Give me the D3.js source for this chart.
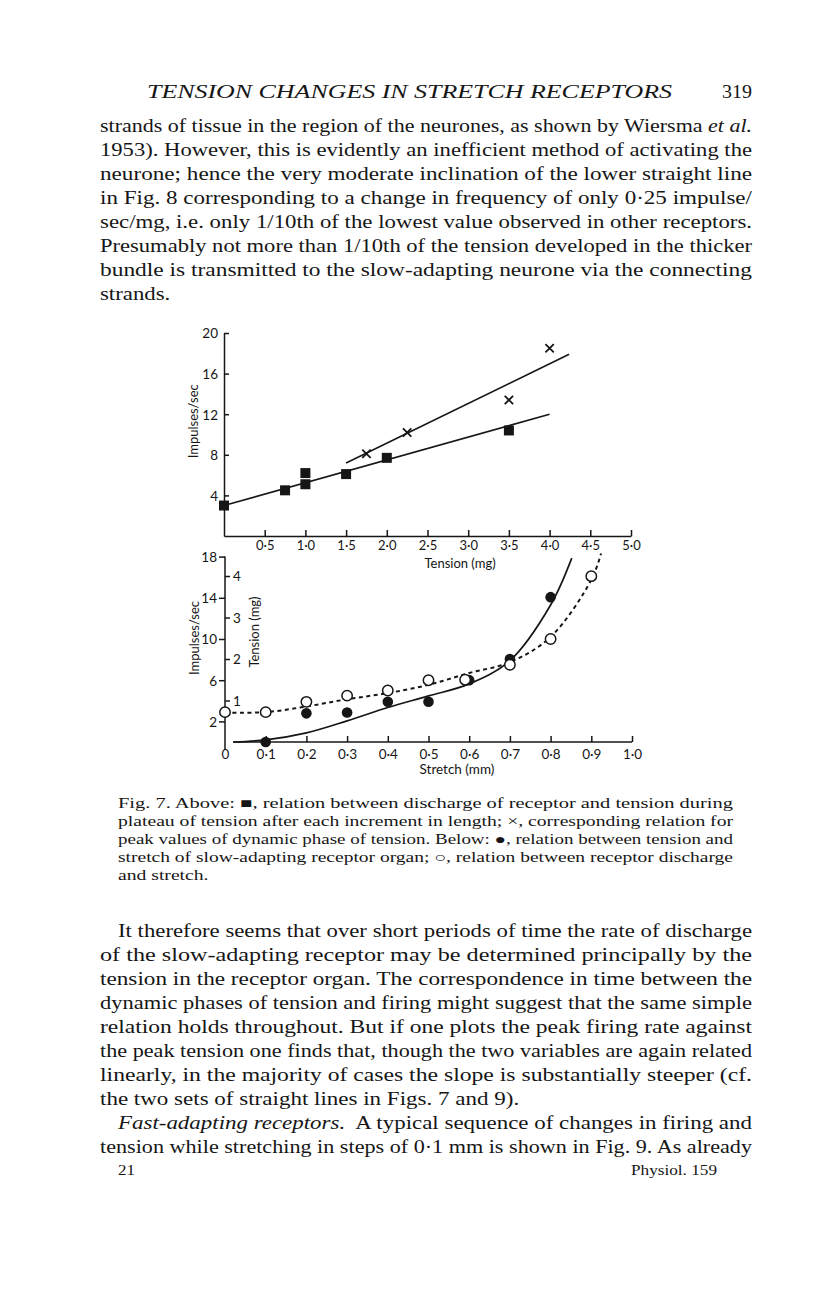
<!DOCTYPE html>
<html>
<head>
<meta charset="utf-8">
<script src="https://cdn.jsdelivr.net/npm/d3@7/dist/d3.min.js"></script>
<style>
  html, body { margin: 0; padding: 0; background: #fff; }
  svg { display: block; }
</style>
</head>
<body>
<script>
// ---------------- DATA ----------------
// Upper panel: discharge vs tension
const squareTension = [0, 0.75, 1.0, 1.0, 1.5, 2.0, 3.5];
const squareRate    = [3.0, 4.5, 5.1, 6.2, 6.1, 7.7, 10.4];
const crossTension  = [1.75, 2.25, 3.5, 4.0];
const crossRate     = [8.1, 10.2, 13.4, 18.5];
const plateauLineT  = [0, 4.0];
const plateauLineR  = [3.0, 12.0];
const peakLineT     = [1.5, 4.24];
const peakLineR     = [7.2, 17.9];
const upperXTicks   = [0.5, 1.0, 1.5, 2.0, 2.5, 3.0, 3.5, 4.0, 4.5, 5.0];
const upperYTicks   = [4, 8, 12, 16, 20];

// Lower panel: tension & discharge vs stretch
const filledStretch = [0.1, 0.2, 0.3, 0.4, 0.5, 0.6, 0.7, 0.8];
const filledTension = [0.0, 0.69, 0.71, 0.97, 0.97, 1.49, 2.0, 3.49];
const openStretch   = [0, 0.1, 0.2, 0.3, 0.4, 0.5, 0.59, 0.7, 0.8, 0.9];
const openRate      = [2.9, 2.9, 3.9, 4.5, 5.0, 6.0, 6.05, 7.5, 10.0, 16.1];
const tensionCurveS = [0.02, 0.1, 0.2, 0.3, 0.4, 0.5, 0.6, 0.7, 0.8, 0.852];
const tensionCurveT = [0.0, 0.05, 0.22, 0.51, 0.83, 1.11, 1.40, 1.96, 3.30, 4.43];
const rateCurveS    = [0, 0.1, 0.2, 0.3, 0.4, 0.5, 0.6, 0.7, 0.8, 0.9, 0.924];
const rateCurveR    = [2.85, 2.9, 3.45, 4.15, 4.75, 5.55, 6.7, 7.75, 10.2, 15.75, 18.3];
const lowerXTicks   = [0, 0.1, 0.2, 0.3, 0.4, 0.5, 0.6, 0.7, 0.8, 0.9, 1.0];
const lowerRateTicks = [2, 6, 10, 14, 18];
const lowerTensionTicks = [1, 2, 3, 4];

// ---------------- TEXT ----------------
const headerText = "TENSION CHANGES IN STRETCH RECEPTORS";
const pageNumber = "319";
const topPara = [
  [["strands of tissue in the region of the neurones, as shown by Wiersma ", 0], ["et al.", 1]],
  [["1953). However, this is evidently an inefficient method of activating the", 0]],
  [["neurone; hence the very moderate inclination of the lower straight line", 0]],
  [["in Fig. 8 corresponding to a change in frequency of only 0·25 impulse/", 0]],
  [["sec/mg, i.e. only 1/10th of the lowest value observed in other receptors.", 0]],
  [["Presumably not more than 1/10th of the tension developed in the thicker", 0]],
  [["bundle is transmitted to the slow-adapting neurone via the connecting", 0]],
  [["strands.", 0]]
];
const captionLines = [
  "Fig. 7. Above: \u25A0, relation between discharge of receptor and tension during",
  "plateau of tension after each increment in length; \u00D7, corresponding relation for",
  "peak values of dynamic phase of tension. Below: \u25CF, relation between tension and",
  "stretch of slow-adapting receptor organ; \u25CB, relation between receptor discharge",
  "and stretch."
];
const bottomPara = [
  [["It therefore seems that over short periods of time the rate of discharge", 0]],
  [["of the slow-adapting receptor may be determined principally by the", 0]],
  [["tension in the receptor organ. The correspondence in time between the", 0]],
  [["dynamic phases of tension and firing might suggest that the same simple", 0]],
  [["relation holds throughout. But if one plots the peak firing rate against", 0]],
  [["the peak tension one finds that, though the two variables are again related", 0]],
  [["linearly, in the majority of cases the slope is substantially steeper (cf.", 0]],
  [["the two sets of straight lines in Figs. 7 and 9).", 0]],
  [["Fast-adapting receptors.", 1], ["  A typical sequence of changes in firing and", 0]],
  [["tension while stretching in steps of 0·1 mm is shown in Fig. 9. As already", 0]]
];

// ---------------- DRAW ----------------
const W = 816, H = 1296;
const svg = d3.select("body").append("svg").attr("width", W).attr("height", H);
svg.append("rect").attr("width", W).attr("height", H).attr("fill", "#fff");

const INK = "#161616";
const serif = "'Liberation Serif', 'Times New Roman', serif";
const sans = "Lato, 'Liberation Sans', sans-serif";

function textLine(g, segs, x, y, size, opts = {}) {
  const t = g.append("text").attr("x", x).attr("y", y)
    .attr("font-family", serif).attr("font-size", size).attr("fill", INK)
    .attr("xml:space", "preserve");
  if (opts.italicAll) t.attr("font-style", "italic");
  segs.forEach(([s, it]) => {
    const ts = t.append("tspan").text(s);
    if (it) ts.attr("font-style", "italic");
  });
  return t;
}

// Lay out a block of lines; justified lines get exact width, ragged lines get the
// block's mean horizontal stretch so that glyph widths stay consistent.
function block(g, lines, size, y0, step, xFor, rightX, raggedIdx) {
  const nodes = lines.map((segs, i) => textLine(g, segs, xFor(i), y0 + i * step, size));
  const ratios = [];
  nodes.forEach((t, i) => {
    if (!raggedIdx.includes(i)) {
      const nat = t.node().getComputedTextLength();
      const w = rightX - xFor(i);
      ratios.push(w / nat);
      t.attr("textLength", w).attr("lengthAdjust", "spacingAndGlyphs");
    }
  });
  const mean = d3.mean(ratios);
  nodes.forEach((t, i) => {
    if (raggedIdx.includes(i)) {
      const nat = t.node().getComputedTextLength();
      t.attr("textLength", nat * mean).attr("lengthAdjust", "spacingAndGlyphs");
    }
  });
}

const textG = svg.append("g");
// header
textLine(textG, [[headerText, 0]], 147, 98, 18, { italicAll: true })
  .attr("textLength", 525).attr("lengthAdjust", "spacingAndGlyphs");
textLine(textG, [[pageNumber, 0]], 722, 98, 18)
  .attr("textLength", 30).attr("lengthAdjust", "spacingAndGlyphs");

block(textG, topPara, 19, 132, 24, () => 100, 752, [7]);
block(textG, captionLines.map(s => [[s, 0]]), 14, 808, 18, () => 118, 733, [4]);
block(textG, bottomPara, 19, 937, 24, i => (i === 0 || i === 8) ? 118 : 100, 752, [7]);

// footer
textLine(textG, [["21", 0]], 118, 1175, 15).attr("textLength", 17).attr("lengthAdjust", "spacingAndGlyphs");
textLine(textG, [["Physiol. 159", 0]], 631, 1175, 15).attr("textLength", 86).attr("lengthAdjust", "spacingAndGlyphs");

const fmt = d => d === 0 ? "0" : d.toFixed(1).replace(".", "\u00B7");

// ---------- Upper panel ----------
const ux = d3.scaleLinear().domain([0, 5]).range([224, 631]);
const uy = d3.scaleLinear().domain([0, 20]).range([536, 333]);
const up = svg.append("g");

const uxAxis = up.append("g").attr("transform", `translate(0,${uy(0)})`)
  .call(d3.axisBottom(ux).tickValues(upperXTicks).tickFormat(fmt)
    .tickSizeInner(-6).tickSizeOuter(0).tickPadding(5));
const uyAxis = up.append("g").attr("transform", `translate(${ux(0)},0)`)
  .call(d3.axisLeft(uy).tickValues(upperYTicks).tickSizeInner(-5).tickSizeOuter(0).tickPadding(6));
[uxAxis, uyAxis].forEach(a => {
  a.selectAll("path, line").attr("stroke", INK).attr("stroke-width", 1.5);
  a.selectAll("text").attr("font-family", sans).attr("font-size", 13).attr("fill", INK);
});
uyAxis.selectAll("text").attr("font-size", 13.5).attr("dy", "0.36em");

up.append("text").attr("transform", `translate(${ux(0) - 26},${uy(11.3)}) rotate(-90)`)
  .attr("text-anchor", "middle").attr("font-family", sans).attr("font-size", 13).attr("fill", INK)
  .text("Impulses/sec");
up.append("text").attr("x", ux(2.9)).attr("y", uy(0) + 32)
  .attr("text-anchor", "middle").attr("font-family", sans).attr("font-size", 13).attr("fill", INK)
  .text("Tension (mg)");

const line = d3.line();
up.append("path").attr("d", line(plateauLineT.map((t, i) => [ux(t), uy(plateauLineR[i])])))
  .attr("stroke", INK).attr("stroke-width", 1.6).attr("fill", "none");
up.append("path").attr("d", line(peakLineT.map((t, i) => [ux(t), uy(peakLineR[i])])))
  .attr("stroke", INK).attr("stroke-width", 1.6).attr("fill", "none");

up.selectAll("rect.sq").data(squareTension.map((t, i) => [t, squareRate[i]])).enter()
  .append("rect").attr("class", "sq")
  .attr("x", d => ux(d[0]) - 5).attr("y", d => uy(d[1]) - 5)
  .attr("width", 10).attr("height", 10).attr("fill", INK);

const cr = 4.2;
up.selectAll("path.cx").data(crossTension.map((t, i) => [t, crossRate[i]])).enter()
  .append("path").attr("class", "cx")
  .attr("d", d => {
    const x = ux(d[0]), y = uy(d[1]);
    return `M${x - cr},${y - cr}L${x + cr},${y + cr}M${x - cr},${y + cr}L${x + cr},${y - cr}`;
  })
  .attr("stroke", INK).attr("stroke-width", 1.8).attr("fill", "none");

// ---------- Lower panel ----------
const lx = d3.scaleLinear().domain([0, 1]).range([225, 632]);
const ly = d3.scaleLinear().domain([0, 18]).range([742, 556.6]);
const lt = d3.scaleLinear().domain([0, 4]).range([742, 576]);
const lo = svg.append("g");

const lxAxis = lo.append("g").attr("transform", `translate(0,${ly(0)})`)
  .call(d3.axisBottom(lx).tickValues(lowerXTicks).tickFormat(fmt)
    .tickSizeInner(-6).tickSizeOuter(0).tickPadding(7));
lxAxis.select("path.domain").attr("d", `M${lx(0.02)},0H${lx(1)}`);
lxAxis.selectAll(".tick").filter(d => d === 0).select("line").remove();

const lyAxis = lo.append("g").attr("transform", `translate(${lx(0)},0)`)
  .call(d3.axisLeft(ly).tickValues(lowerRateTicks).tickSizeInner(6).tickSizeOuter(0).tickPadding(2));
lyAxis.select("path.domain").attr("d", `M0,${ly(18)}V${ly(0) + 8}`);
const ltAxis = lo.append("g").attr("transform", `translate(${lx(0)},0)`)
  .call(d3.axisRight(lt).tickValues(lowerTensionTicks).tickFormat(d3.format("d"))
    .tickSizeInner(5).tickSizeOuter(0).tickPadding(3));
ltAxis.select("path.domain").remove();

[lxAxis, lyAxis, ltAxis].forEach(a => {
  a.selectAll("path, line").attr("stroke", INK).attr("stroke-width", 1.5);
  a.selectAll("text").attr("font-family", sans).attr("font-size", 13.5).attr("fill", INK);
});
lyAxis.selectAll("text").attr("dy", "0.36em");
ltAxis.selectAll("text").attr("dy", "0.36em");

lo.append("text").attr("transform", `translate(${lx(0) - 26},${ly(10.1)}) rotate(-90)`)
  .attr("text-anchor", "middle").attr("font-family", sans).attr("font-size", 13).attr("fill", INK)
  .text("Impulses/sec");
lo.append("text").attr("transform", `translate(${lx(0) + 34},${lt(2.65)}) rotate(-90)`)
  .attr("text-anchor", "middle").attr("font-family", sans).attr("font-size", 13).attr("fill", INK)
  .text("Tension (mg)");
lo.append("text").attr("x", lx(0.57)).attr("y", ly(0) + 32)
  .attr("text-anchor", "middle").attr("font-family", sans).attr("font-size", 13.5).attr("fill", INK)
  .text("Stretch (mm)");

const curve = d3.line().curve(d3.curveCatmullRom.alpha(0.5));
lo.append("path")
  .attr("d", curve(tensionCurveS.map((s, i) => [lx(s), lt(tensionCurveT[i])])))
  .attr("stroke", INK).attr("stroke-width", 1.7).attr("fill", "none");
lo.append("path")
  .attr("d", curve(rateCurveS.map((s, i) => [lx(s), ly(rateCurveR[i])])))
  .attr("stroke", INK).attr("stroke-width", 2).attr("stroke-dasharray", "4,3.5").attr("fill", "none");

lo.selectAll("circle.f").data(filledStretch.map((s, i) => [s, filledTension[i]])).enter()
  .append("circle").attr("class", "f")
  .attr("cx", d => lx(d[0])).attr("cy", d => lt(d[1])).attr("r", 5.3).attr("fill", INK);
lo.selectAll("circle.o").data(openStretch.map((s, i) => [s, openRate[i]])).enter()
  .append("circle").attr("class", "o")
  .attr("cx", d => lx(d[0])).attr("cy", d => ly(d[1])).attr("r", 5.2)
  .attr("fill", "#fff").attr("stroke", INK).attr("stroke-width", 1.5);
</script>
</body>
</html>
